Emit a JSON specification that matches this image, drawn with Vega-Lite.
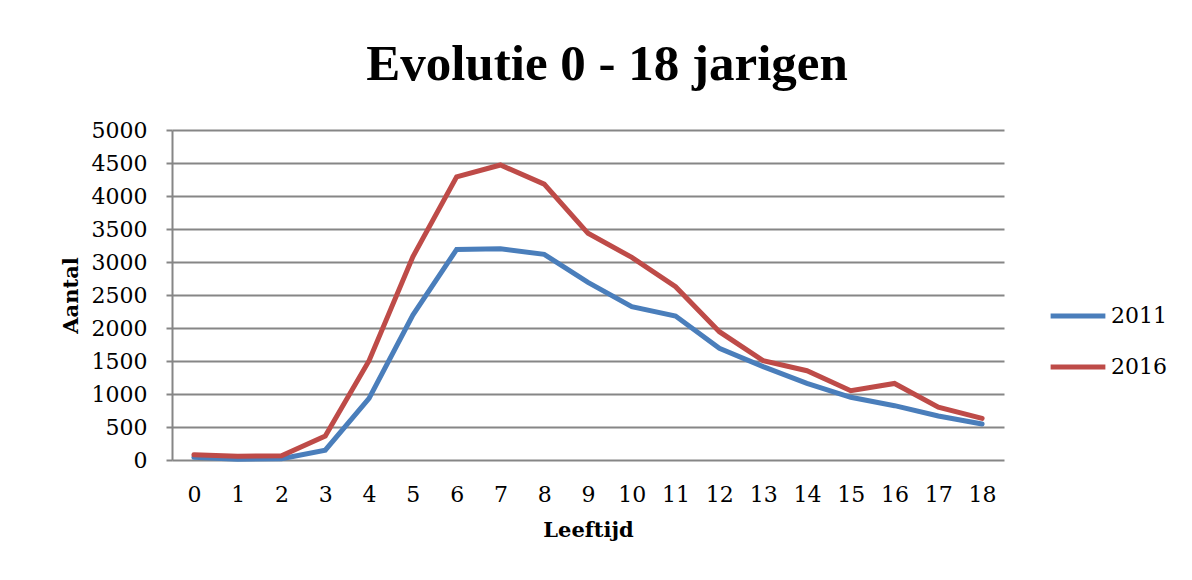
{
  "$schema": "https://vega.github.io/schema/vega-lite/v6.json",
  "autosize": {"type": "none"},
  "width": 832,
  "height": 330,
  "padding": {"left": 172, "top": 130, "right": 188, "bottom": 120},
  "background": "white",
  "title": {
    "text": "Evolutie 0 - 18 jarigen",
    "font": "Liberation Serif",
    "fontSize": 51,
    "fontWeight": "bold",
    "color": "black",
    "anchor": "middle",
    "dx": 19,
    "offset": 28
  },
  "data": {
    "values": [
      {"Leeftijd": 0, "Jaar": "2011", "Aantal": 40},
      {"Leeftijd": 1, "Jaar": "2011", "Aantal": 10},
      {"Leeftijd": 2, "Jaar": "2011", "Aantal": 20},
      {"Leeftijd": 3, "Jaar": "2011", "Aantal": 150},
      {"Leeftijd": 4, "Jaar": "2011", "Aantal": 935},
      {"Leeftijd": 5, "Jaar": "2011", "Aantal": 2197},
      {"Leeftijd": 6, "Jaar": "2011", "Aantal": 3190},
      {"Leeftijd": 7, "Jaar": "2011", "Aantal": 3200},
      {"Leeftijd": 8, "Jaar": "2011", "Aantal": 3116},
      {"Leeftijd": 9, "Jaar": "2011", "Aantal": 2692},
      {"Leeftijd": 10, "Jaar": "2011", "Aantal": 2323},
      {"Leeftijd": 11, "Jaar": "2011", "Aantal": 2181},
      {"Leeftijd": 12, "Jaar": "2011", "Aantal": 1692},
      {"Leeftijd": 13, "Jaar": "2011", "Aantal": 1414},
      {"Leeftijd": 14, "Jaar": "2011", "Aantal": 1162},
      {"Leeftijd": 15, "Jaar": "2011", "Aantal": 950},
      {"Leeftijd": 16, "Jaar": "2011", "Aantal": 823},
      {"Leeftijd": 17, "Jaar": "2011", "Aantal": 667},
      {"Leeftijd": 18, "Jaar": "2011", "Aantal": 545},
      {"Leeftijd": 0, "Jaar": "2016", "Aantal": 78},
      {"Leeftijd": 1, "Jaar": "2016", "Aantal": 55},
      {"Leeftijd": 2, "Jaar": "2016", "Aantal": 65},
      {"Leeftijd": 3, "Jaar": "2016", "Aantal": 362},
      {"Leeftijd": 4, "Jaar": "2016", "Aantal": 1505},
      {"Leeftijd": 5, "Jaar": "2016", "Aantal": 3080},
      {"Leeftijd": 6, "Jaar": "2016", "Aantal": 4290},
      {"Leeftijd": 7, "Jaar": "2016", "Aantal": 4470},
      {"Leeftijd": 8, "Jaar": "2016", "Aantal": 4180},
      {"Leeftijd": 9, "Jaar": "2016", "Aantal": 3435},
      {"Leeftijd": 10, "Jaar": "2016", "Aantal": 3070},
      {"Leeftijd": 11, "Jaar": "2016", "Aantal": 2626},
      {"Leeftijd": 12, "Jaar": "2016", "Aantal": 1944},
      {"Leeftijd": 13, "Jaar": "2016", "Aantal": 1505},
      {"Leeftijd": 14, "Jaar": "2016", "Aantal": 1353},
      {"Leeftijd": 15, "Jaar": "2016", "Aantal": 1050},
      {"Leeftijd": 16, "Jaar": "2016", "Aantal": 1160},
      {"Leeftijd": 17, "Jaar": "2016", "Aantal": 800},
      {"Leeftijd": 18, "Jaar": "2016", "Aantal": 631}
    ]
  },
  "mark": {"type": "line", "strokeWidth": 5, "strokeCap": "round", "strokeJoin": "miter"},
  "encoding": {
    "x": {
      "field": "Leeftijd",
      "type": "ordinal",
      "scale": {"type": "point", "padding": 0.5},
      "axis": {
        "title": "Leeftijd",
        "labelAngle": 0,
        "domain": false,
        "ticks": false,
        "grid": false,
        "labelFont": "DejaVu Serif",
        "labelFontSize": 22,
        "labelColor": "black",
        "labelPadding": 24,
        "titleFont": "DejaVu Serif",
        "titleFontSize": 21,
        "titleFontWeight": "bold",
        "titleColor": "black",
        "titlePadding": 14
      }
    },
    "y": {
      "field": "Aantal",
      "type": "quantitative",
      "scale": {"domain": [0, 5000], "nice": false},
      "axis": {
        "title": "Aantal",
        "format": "d",
        "values": [0, 500, 1000, 1500, 2000, 2500, 3000, 3500, 4000, 4500, 5000],
        "domain": true,
        "domainColor": "#868686",
        "domainWidth": 2,
        "ticks": true,
        "tickColor": "#868686",
        "tickWidth": 2,
        "tickSize": 6,
        "grid": true,
        "gridColor": "#868686",
        "gridWidth": 2,
        "labelFont": "DejaVu Serif",
        "labelFontSize": 22,
        "labelColor": "black",
        "labelPadding": 19,
        "titleFont": "DejaVu Serif",
        "titleFontSize": 21,
        "titleFontWeight": "bold",
        "titleColor": "black",
        "titlePadding": 10
      }
    },
    "color": {
      "field": "Jaar",
      "type": "nominal",
      "scale": {"domain": ["2011", "2016"], "range": ["#4A7EBB", "#BE4B48"]},
      "legend": {
        "title": null,
        "orient": "none",
        "legendX": 876,
        "legendY": 156,
        "symbolType": "stroke",
        "symbolSize": 3000,
        "symbolStrokeWidth": 5,
        "labelFont": "DejaVu Serif",
        "labelFontSize": 22,
        "labelColor": "black",
        "labelOffset": 3,
        "rowPadding": 10
      }
    }
  },
  "config": {
    "view": {"stroke": null}
  }
}
